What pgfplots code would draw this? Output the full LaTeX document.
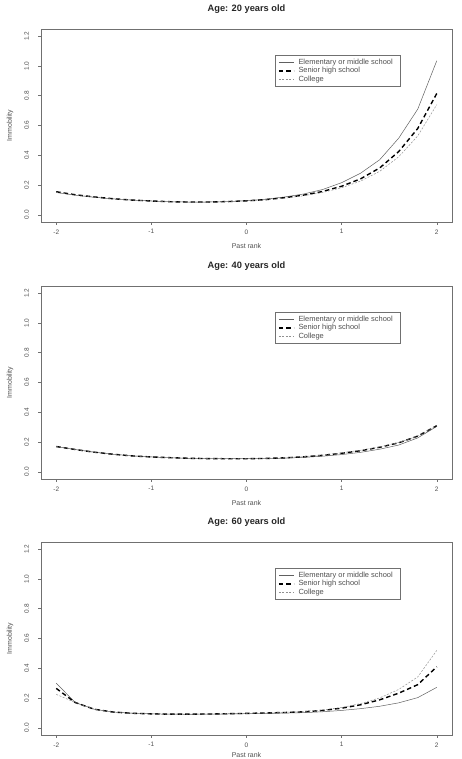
\documentclass[border=0pt]{standalone}
\usepackage{pgfplots}
\pgfplotsset{compat=1.18}
\usepackage{fontspec}
\setmainfont{Liberation Sans}
\definecolor{axgray}{HTML}{707070}
\definecolor{txtgray}{HTML}{505050}
\definecolor{elemgray}{HTML}{606060}
\definecolor{colgray}{HTML}{909090}
\pgfplotsset{
  rpanel/.style={
    scale only axis, width=411bp, height=193bp,
    xmin=-2.16, xmax=2.16, ymin=-0.048, ymax=1.248,
    xtick={-2,-1,0,1,2}, ytick={0,0.2,0.4,0.6,0.8,1.0,1.2},
    yticklabels={0.0,0.2,0.4,0.6,0.8,1.0,1.2},
    xticklabels={-2,-1,0,1,2},
    axis line style={axgray, line width=0.6pt},
    tick style={axgray, line width=0.5pt},
    tick align=outside, major tick length=3bp,
    xtick pos=bottom, ytick pos=left,
    ticklabel style={font=\fontsize{6.5}{7}\selectfont, text=txtgray},
    yticklabel style={rotate=90, anchor=south},
    yticklabel shift={5.5bp},
    xticklabel shift={1bp},
    /pgf/number format/assume math mode=true,
    xlabel={Past rank}, ylabel={Immobility},
    label style={font=\fontsize{7}{7.5}\selectfont, text=txtgray},
    xlabel style={at={(axis description cs:0.5,-0.124)}, anchor=center},
    ylabel style={at={(axis description cs:-0.075,0.5)}, anchor=center},
    title style={font=\fontsize{9.3}{10}\bfseries, text=black!85, at={(axis description cs:0.5,1.0725)}, anchor=center},
    legend style={at={(0.569,0.864)}, anchor=north west, draw=axgray, line width=0.5pt,
      font=\fontsize{7.5}{8}\selectfont, text=txtgray, row sep=-2.3bp,
      inner xsep=3bp, inner ysep=1.5bp,
      nodes={inner xsep=4bp}},
    legend cell align=left,
    legend image code/.code={\draw[#1] (0bp,0bp) -- (15bp,0bp);},
  },
  elem/.style={elemgray, line width=0.5pt},
  sen/.style={black, line width=1.4pt, dash pattern=on 4.5bp off 3bp},
  col/.style={colgray, line width=0.5pt, dash pattern=on 2bp off 1.5bp},
}
\begin{document}
\begin{tikzpicture}[x=1bp,y=1bp]
\useasboundingbox (0,0) rectangle (462,759);
% Panel 1
\begin{axis}[rpanel, at={(41bp,537bp)}, anchor=south west, title={Age: 20 years old}]
\addplot[elem] coordinates {(-2,0.150) (-1.8,0.132) (-1.6,0.118) (-1.4,0.107) (-1.2,0.099) (-1,0.093) (-0.8,0.088) (-0.6,0.086) (-0.4,0.086) (-0.2,0.089) (0,0.095) (0.2,0.105) (0.4,0.120) (0.6,0.140) (0.8,0.170) (1.0,0.216) (1.2,0.280) (1.4,0.370) (1.6,0.515) (1.8,0.710) (2.0,1.035)};
\addlegendentry{Elementary or middle school}
\addplot[sen] coordinates {(-2,0.155) (-1.8,0.135) (-1.6,0.120) (-1.4,0.108) (-1.2,0.099) (-1,0.093) (-0.8,0.088) (-0.6,0.086) (-0.4,0.086) (-0.2,0.089) (0,0.094) (0.2,0.102) (0.4,0.115) (0.6,0.132) (0.8,0.157) (1.0,0.192) (1.2,0.242) (1.4,0.315) (1.6,0.425) (1.8,0.580) (2.0,0.815)};
\addlegendentry{Senior high school}
\addplot[col] coordinates {(-2,0.150) (-1.8,0.132) (-1.6,0.118) (-1.4,0.107) (-1.2,0.099) (-1,0.093) (-0.8,0.088) (-0.6,0.086) (-0.4,0.086) (-0.2,0.089) (0,0.094) (0.2,0.101) (0.4,0.112) (0.6,0.128) (0.8,0.150) (1.0,0.182) (1.2,0.227) (1.4,0.292) (1.6,0.390) (1.8,0.530) (2.0,0.740)};
\addlegendentry{College}
\end{axis}
% Panel 2
\begin{axis}[rpanel, at={(41bp,280bp)}, anchor=south west, title={Age: 40 years old}]
\addplot[elem] coordinates {(-2,0.170) (-1.8,0.150) (-1.6,0.132) (-1.4,0.118) (-1.2,0.107) (-1,0.100) (-0.8,0.095) (-0.6,0.091) (-0.4,0.089) (-0.2,0.088) (0,0.088) (0.2,0.089) (0.4,0.092) (0.6,0.097) (0.8,0.105) (1.0,0.116) (1.2,0.131) (1.4,0.152) (1.6,0.180) (1.8,0.228) (2.0,0.305)};
\addlegendentry{Elementary or middle school}
\addplot[sen] coordinates {(-2,0.170) (-1.8,0.150) (-1.6,0.132) (-1.4,0.118) (-1.2,0.107) (-1,0.100) (-0.8,0.095) (-0.6,0.091) (-0.4,0.089) (-0.2,0.088) (0,0.088) (0.2,0.090) (0.4,0.094) (0.6,0.101) (0.8,0.111) (1.0,0.125) (1.2,0.142) (1.4,0.165) (1.6,0.195) (1.8,0.240) (2.0,0.310)};
\addlegendentry{Senior high school}
\addplot[col] coordinates {(-2,0.170) (-1.8,0.150) (-1.6,0.132) (-1.4,0.118) (-1.2,0.107) (-1,0.100) (-0.8,0.095) (-0.6,0.091) (-0.4,0.089) (-0.2,0.088) (0,0.088) (0.2,0.090) (0.4,0.095) (0.6,0.102) (0.8,0.113) (1.0,0.128) (1.2,0.145) (1.4,0.168) (1.6,0.197) (1.8,0.240) (2.0,0.310)};
\addlegendentry{College}
\end{axis}
% Panel 3
\begin{axis}[rpanel, at={(41bp,24bp)}, anchor=south west, title={Age: 60 years old},
  xlabel style={at={(axis description cs:0.5,-0.105)}, anchor=center}]
\addplot[elem] coordinates {(-2,0.300) (-1.8,0.170) (-1.6,0.125) (-1.4,0.106) (-1.2,0.098) (-1,0.094) (-0.8,0.092) (-0.6,0.091) (-0.4,0.092) (-0.2,0.093) (0,0.095) (0.2,0.097) (0.4,0.099) (0.6,0.102) (0.8,0.108) (1.0,0.117) (1.2,0.129) (1.4,0.145) (1.6,0.168) (1.8,0.203) (2.0,0.272)};
\addlegendentry{Elementary or middle school}
\addplot[sen] coordinates {(-2,0.265) (-1.8,0.170) (-1.6,0.125) (-1.4,0.106) (-1.2,0.098) (-1,0.094) (-0.8,0.092) (-0.6,0.092) (-0.4,0.093) (-0.2,0.095) (0,0.097) (0.2,0.100) (0.4,0.103) (0.6,0.108) (0.8,0.117) (1.0,0.132) (1.2,0.155) (1.4,0.188) (1.6,0.233) (1.8,0.290) (2.0,0.410)};
\addlegendentry{Senior high school}
\addplot[col] coordinates {(-2,0.225) (-1.8,0.170) (-1.6,0.125) (-1.4,0.106) (-1.2,0.098) (-1,0.094) (-0.8,0.092) (-0.6,0.092) (-0.4,0.093) (-0.2,0.095) (0,0.097) (0.2,0.100) (0.4,0.104) (0.6,0.110) (0.8,0.120) (1.0,0.137) (1.2,0.163) (1.4,0.201) (1.6,0.258) (1.8,0.342) (2.0,0.520)};
\addlegendentry{College}
\end{axis}
\end{tikzpicture}
\end{document}
